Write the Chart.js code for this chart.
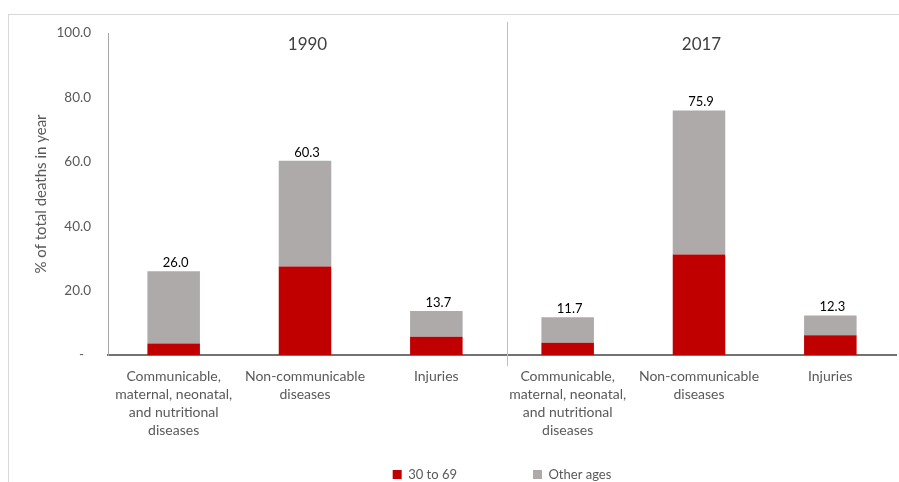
<!DOCTYPE html>
<html lang="en">
<head>
  <meta charset="UTF-8" />
  <title>Deaths by cause</title>
  <script src="https://cdn.jsdelivr.net/npm/chart.js"></script>
  <style>
    body { margin: 0; background: #fff; }
    .frame {
      position: absolute;
      left: 8px;
      top: 14px;
      width: 900px;
      height: 480px;
      border: 1px solid #d9d9d9;
    }
    #deathsChart { position: absolute; left: 0; top: 0; }
  </style>
</head>
<body>
<div class="frame"></div>
<canvas id="deathsChart" width="899" height="482"></canvas>

<script>
  const categories = [
    ['Communicable,', 'maternal, neonatal,', 'and nutritional', 'diseases'],
    ['Non-communicable', 'diseases'],
    ['Injuries'],
    ['Communicable,', 'maternal, neonatal,', 'and nutritional', 'diseases'],
    ['Non-communicable', 'diseases'],
    ['Injuries']
  ];
  const years = ['1990', '2017'];
  const totals = [26.0, 60.3, 13.7, 11.7, 75.9, 12.3];
  const age30to69 = [3.6, 27.5, 5.7, 3.8, 31.2, 6.1];
  const otherAges = totals.map((t, i) => +(t - age30to69[i]).toFixed(1));
  const yTicks = [0, 20, 40, 60, 80, 100];

  const FONT = 'Lato, "Open Sans", sans-serif';

  // group titles, the divider between years and the total above each bar
  const decor = {
    id: 'decor',
    afterLayout(chart) {
      // legend sits low, below the wrapped category labels
      const lg = chart.legend;
      lg.top = 392;
      lg.bottom = chart.height;
      lg.height = lg.bottom - lg.top;
    },
    afterDatasetsDraw(chart) {
      const { ctx, chartArea, scales: { x, y } } = chart;
      ctx.save();
      const divX = Math.round((x.getPixelForValue(2) + x.getPixelForValue(3)) / 2) + 5;
      ctx.strokeStyle = '#bfbfbf';
      ctx.lineWidth = 1;
      ctx.beginPath();
      ctx.moveTo(divX + 0.5, 22);
      ctx.lineTo(divX + 0.5, 366);
      ctx.stroke();

      ctx.fillStyle = '#404040';
      ctx.font = '17px ' + FONT;
      ctx.textAlign = 'center';
      ctx.textBaseline = 'middle';
      ctx.fillText(years[0], (chartArea.left + divX) / 2, 45);
      ctx.fillText(years[1], (divX + chartArea.right) / 2, 45);

      ctx.fillStyle = '#000';
      ctx.font = '13px ' + FONT;
      ctx.textBaseline = 'bottom';
      totals.forEach((t, i) => {
        ctx.fillText(t.toFixed(1), x.getPixelForValue(i) + 2, y.getPixelForValue(t) - 2);
      });
      ctx.restore();
    }
  };

  new Chart(document.getElementById('deathsChart'), {
    type: 'bar',
    data: {
      labels: categories,
      datasets: [
        {
          label: '30 to 69',
          data: age30to69,
          backgroundColor: '#c00000',
          barPercentage: 0.4,
          categoryPercentage: 1
        },
        {
          label: 'Other ages',
          data: otherAges,
          backgroundColor: '#aeaaaa',
          barPercentage: 0.4,
          categoryPercentage: 1
        }
      ]
    },
    options: {
      responsive: false,
      animation: false,
      layout: { padding: { top: 33, right: 3, left: 0, bottom: 0 } },
      plugins: {
        legend: {
          position: 'bottom',
          fullSize: false,
          maxHeight: 45,
          labels: {
            boxWidth: 9,
            boxHeight: 9,
            padding: 76,
            color: '#595959',
            font: { family: FONT, size: 13 }
          }
        },
        tooltip: { enabled: false }
      },
      scales: {
        x: {
          stacked: true,
          grid: { display: false, drawTicks: false },
          border: { display: true, color: '#767171', width: 2 },
          ticks: {
            color: '#595959',
            padding: 12,
            maxRotation: 0,
            autoSkip: false,
            font: { family: FONT, size: 14, lineHeight: 1.3 }
          },
          afterFit(scale) { scale.height = 82; }
        },
        y: {
          stacked: true,
          min: 0,
          max: 100,
          afterBuildTicks(scale) { scale.ticks = yTicks.map(v => ({ value: v })); },
          grid: { display: false, drawTicks: false },
          border: { display: true, color: '#a6a6a6', width: 1 },
          ticks: {
            color: '#595959',
            padding: 17,
            font: { family: FONT, size: 13.5 },
            callback: v => (v === 0 ? '-  ' : v.toFixed(1))
          },
          title: {
            display: true,
            text: '% of total deaths in year',
            color: '#595959',
            font: { family: FONT, size: 15 },
            padding: { top: 32, bottom: 0 }
          },
          afterFit(scale) { scale.width = 108; }
        }
      }
    },
    plugins: [decor]
  });
</script>
</body>
</html>
